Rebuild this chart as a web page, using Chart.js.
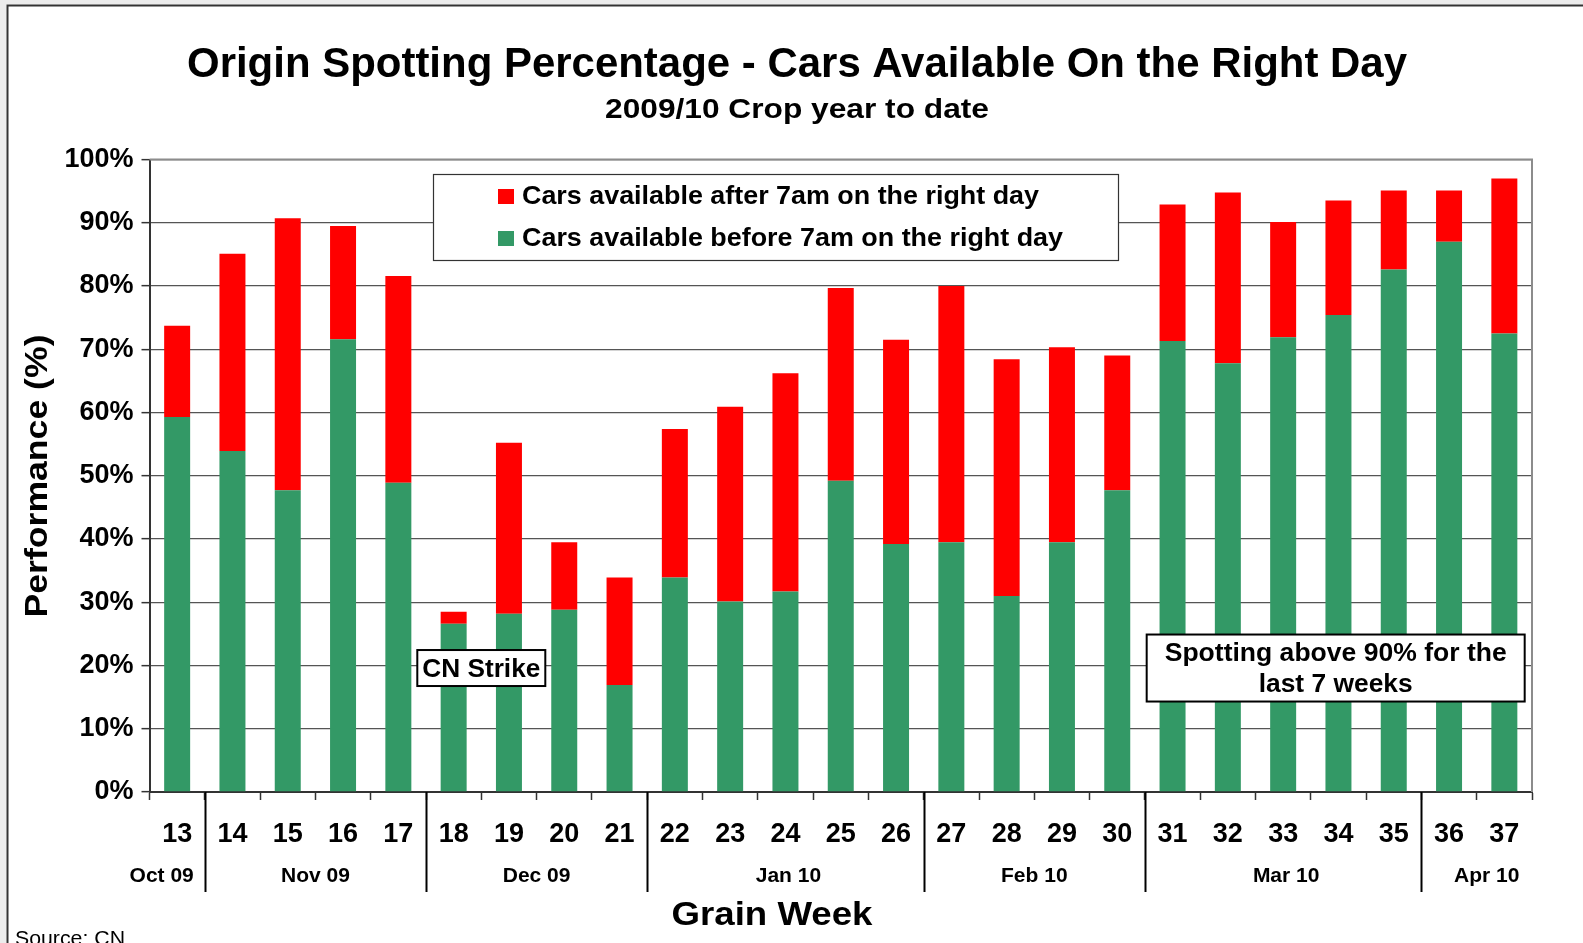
<!DOCTYPE html>
<html><head><meta charset="utf-8">
<script src="https://cdn.jsdelivr.net/npm/chart.js@4/dist/chart.umd.min.js"></script>
<style>html,body{margin:0;padding:0;background:#fff;overflow:hidden}canvas{display:block}</style>
</head><body>
<canvas id="c" width="1583" height="943"></canvas>
<script>
const weeks = ['13','14','15','16','17','18','19','20','21','22','23','24','25','26','27','28','29','30','31','32','33','34','35','36','37'];
const months = ['Oct 09','Nov 09','Dec 09','Jan 10','Feb 10','Mar 10','Apr 10'];
const weeksPerMonth = [1,4,4,5,4,5,2];
const before7 = [59.3,53.9,47.7,71.6,48.9,26.6,28.2,28.8,16.9,33.9,30.1,31.7,49.2,39.2,39.5,31.0,39.5,47.7,71.3,67.8,71.9,75.4,82.6,87.0,72.5];
const after7  = [14.4,31.2,43.0,17.9,32.7,1.9,27.0,10.7,17.0,23.5,30.8,34.5,30.5,32.3,40.5,37.4,30.8,21.3,21.6,27.0,18.2,18.1,12.5,8.1,24.5];
const yTickValues = [0,10,20,30,40,50,60,70,80,90,100];
const seriesNames = ['Cars available before 7am on the right day','Cars available after 7am on the right day'];
const titleText = 'Origin Spotting Percentage - Cars Available On the Right Day';
const subtitleText = '2009/10 Crop year to date';
const yTitle = 'Performance (%)';
const xTitle = 'Grain Week';
const sourceText = 'Source: CN';
const noteStrike = 'CN Strike';
const noteSpotting = ['Spotting above 90% for the','last 7 weeks'];

const GREEN = '#339966', RED = '#FF0000';
const FONT = '"Liberation Sans", Arial, Helvetica, sans-serif';

function txt(ctx, text, x, y, o) {
  ctx.save();
  ctx.font = (o.weight || 'bold') + ' ' + o.size + 'px ' + FONT;
  ctx.fillStyle = o.color || '#000';
  ctx.textBaseline = o.baseline || 'alphabetic';
  ctx.textAlign = o.align || 'center';
  const w = ctx.measureText(text).width;
  const sx = o.width ? o.width / w : 1;
  ctx.translate(x, y);
  if (o.rotate) ctx.rotate(o.rotate);
  ctx.scale(sx, 1);
  ctx.fillText(text, 0, 0);
  ctx.restore();
}
function box(ctx, l, t, r, b, lw, color) {
  ctx.save();
  ctx.fillStyle = '#fff';
  ctx.fillRect(l, t, r - l, b - t);
  ctx.lineWidth = lw; ctx.strokeStyle = color;
  ctx.strokeRect(l, t, r - l, b - t);
  ctx.restore();
}

const decor = {
  id: 'decor',
  beforeDraw(chart) {
    const ctx = chart.ctx;
    ctx.save();
    ctx.fillStyle = '#fff'; ctx.fillRect(0, 0, chart.width, chart.height);
    ctx.fillStyle = '#ececec';
    ctx.fillRect(0, 0, chart.width, 4.5);
    ctx.fillRect(0, 0, 6.5, chart.height);
    ctx.strokeStyle = '#333'; ctx.lineWidth = 2;
    ctx.beginPath(); ctx.moveTo(7.5, chart.height); ctx.lineTo(7.5, 5.5); ctx.lineTo(chart.width, 5.5); ctx.stroke();
    ctx.restore();
  },
  afterDraw(chart) {
    const ctx = chart.ctx, xs = chart.scales.x, ys = chart.scales.y, ca = chart.chartArea;
    ctx.save();
    ctx.strokeStyle = '#8c8c8c'; ctx.lineWidth = 2;
    ctx.beginPath(); ctx.moveTo(ca.left, ca.top); ctx.lineTo(ca.right, ca.top); ctx.lineTo(ca.right, ca.bottom); ctx.stroke();
    ctx.restore();
    txt(ctx, titleText, 797, 77.3, {size: 43, width: 1220});
    txt(ctx, subtitleText, 797, 118.3, {size: 28, width: 384});
    box(ctx, 433.5, 174.5, 1118.5, 260.5, 1.2, '#333');
    ctx.save();
    ctx.fillStyle = RED; ctx.fillRect(498, 189, 16, 15);
    ctx.fillStyle = GREEN; ctx.fillRect(498, 231, 16, 15);
    ctx.restore();
    txt(ctx, seriesNames[1], 522, 204, {size: 26, width: 517, align: 'left'});
    txt(ctx, seriesNames[0], 522, 246, {size: 26, width: 541, align: 'left'});
    txt(ctx, yTitle, 47, 476, {size: 31, width: 283, rotate: -Math.PI / 2});
    txt(ctx, xTitle, 772, 925, {size: 33, width: 201});
    txt(ctx, sourceText, 15, 944.5, {size: 21, weight: 'normal', width: 110, align: 'left'});
    const step = xs.getPixelForValue(1) - xs.getPixelForValue(0);
    const edge = i => xs.getPixelForValue(i) - step / 2;
    let start = 0;
    ctx.save();
    ctx.strokeStyle = '#000'; ctx.lineWidth = 2;
    weeksPerMonth.forEach((n, k) => {
      const end = start + n;
      if (k < weeksPerMonth.length - 1) {
        const sx = Math.round(edge(end)) + 0.5;
        ctx.beginPath(); ctx.moveTo(sx, ca.bottom); ctx.lineTo(sx, 892); ctx.stroke();
      }
      start = end;
    });
    ctx.restore();
    start = 0;
    ctx.save();
    ctx.font = 'bold 21px ' + FONT;
    weeksPerMonth.forEach((n, k) => {
      const end = start + n;
      const l = edge(start), r = edge(end);
      const w = ctx.measureText(months[k]).width;
      if (w > (r - l) - 6) txt(ctx, months[k], r - 11, 881.7, {size: 21, align: 'right'});
      else if (k === weeksPerMonth.length - 1) txt(ctx, months[k], (l + r) / 2 + 10, 881.7, {size: 21});
      else txt(ctx, months[k], (l + r) / 2 + (n === 5 ? 3 : 0), 881.7, {size: 21});
      start = end;
    });
    ctx.restore();
    const cy = ys.getPixelForValue(19.6);
    const c1 = (xs.getPixelForValue(5) + xs.getPixelForValue(6)) / 2;
    box(ctx, c1 - 64, cy - 18, c1 + 64, cy + 18, 2, '#000');
    txt(ctx, noteStrike, c1, cy + 8.7, {size: 25.5, width: 118});
    const c2 = xs.getPixelForValue(20) + 0.95 * step;
    box(ctx, c2 - 189, cy - 33.5, c2 + 189, cy + 33.5, 2, '#000');
    txt(ctx, noteSpotting[0], c2, cy - 7, {size: 25.5, width: 342});
    txt(ctx, noteSpotting[1], c2, cy + 24, {size: 25.5, width: 154});
  }
};

new Chart(document.getElementById('c'), {
  type: 'bar',
  data: {
    labels: weeks,
    datasets: [
      {label: seriesNames[0], data: before7, backgroundColor: GREEN, borderWidth: 0, barPercentage: 0.47, categoryPercentage: 1},
      {label: seriesNames[1], data: after7, backgroundColor: RED, borderWidth: 0, barPercentage: 0.47, categoryPercentage: 1}
    ]
  },
  options: {
    responsive: false,
    animation: false,
    devicePixelRatio: 1,
    layout: {padding: {top: 159.5, right: 51, bottom: 0, left: 0}},
    plugins: {legend: {display: false}, title: {display: false}, tooltip: {enabled: false}},
    scales: {
      x: {
        stacked: true,
        grid: {offset: true, drawOnChartArea: false, drawTicks: true, tickLength: 8, tickColor: '#333', tickWidth: 1.5},
        border: {color: '#333', width: 2},
        ticks: {font: {family: FONT, size: 27, weight: 'bold'}, color: '#000', padding: 18, maxRotation: 0, autoSkip: false},
        afterFit: s => { s.height = 151; }
      },
      y: {
        stacked: true, min: 0, max: 100,
        afterBuildTicks: s => { s.ticks = yTickValues.map(v => ({value: v})); },
        grid: {color: '#555', lineWidth: 1.3, tickLength: 8, tickColor: '#333', tickWidth: 1.5},
        border: {color: '#333', width: 2},
        ticks: {font: {family: FONT, size: 27, weight: 'bold'}, color: '#000', padding: 8, callback: v => v + '%'},
        afterFit: s => { s.width = 149.5; }
      }
    }
  },
  plugins: [decor]
});
</script>
</body></html>
